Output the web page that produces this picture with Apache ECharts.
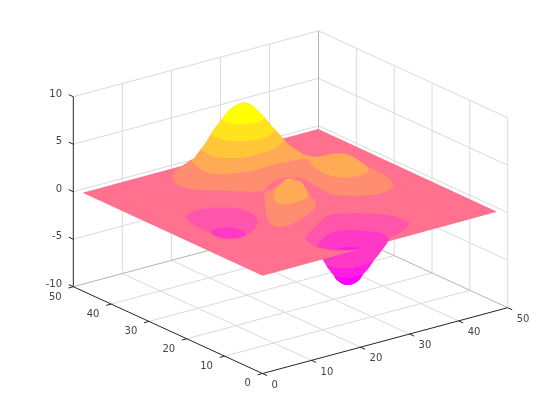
<!DOCTYPE html>
<html>
<head>
<meta charset="utf-8">
<style>html,body{margin:0;padding:0;background:#fff}#c{width:560px;height:420px}</style>
<script src="https://cdn.jsdelivr.net/npm/echarts@6/dist/echarts.min.js"></script>
</head>
<body>
<div id="c"></div>
<script>
// Axis ticks
const xTicks = [0, 10, 20, 30, 40, 50];
const yTicks = [0, 10, 20, 30, 40, 50];
const zTicks = [-10, -5, 0, 5, 10];

// Contour levels and band colours (spring colormap)
const levels = { m5: -5.09, m4: -3.62, m2: -2.16, m1: -0.69, p1: 0.77, p2: 2.24, p4: 3.7, p5: 5.17, p7: 6.63 };
const colors = { m5: '#ff00ff', m4: '#ff1ce3', m2: '#ff39c6', m1: '#ff55aa', p0: '#ff718e', p1: '#ff8e71', p2: '#ffaa55', p4: '#ffc639', p5: '#ffe31c', p7: '#ffff00' };

// Surface outlines, [x, y, z]
const planeCorners = [[0.9, 48.7, 0], [49.1, 48.9, 0], [48.9, 1.4, 0], [0.8, 1.0, 0]];
const hillRidge = [[17.7,41.7,2.24],[18.5,41.0,3.2],[19.9,40.9,4.0],[20.1,39.5,5.3],[21.1,39.5,5.9],[21.5,38.7,6.63],[22.1,38.4,7.2],[23.0,38.4,7.6],[24.3,38.3,7.9],[25.2,37.8,8.1],[25.9,37.3,8.0],[26.3,36.5,7.8],[27.1,36.0,7.2],[27.6,35.1,6.63],[29.1,35.1,5.5],[30.8,35.3,4.4],[31.7,35.2,3.7],[32.7,34.7,3.0],[34.1,33.0,2.24]];
const troughRidge = [[31.9,8.3,-2.16],[29.5,7.6,-3.0],[28.8,8.0,-3.62],[27.9,8.2,-4.3],[27.8,9.4,-5.09],[27.0,9.6,-5.7],[26.4,10.6,-6.2],[26.1,11.5,-6.4],[25.3,11.4,-6.2],[24.1,11.6,-5.6],[23.5,11.5,-5.09],[22.5,11.8,-4.2],[21.5,11.0,-3.62],[20.9,11.3,-2.9]];

// Contours, [x, y] at one level; each list is one unbroken stretch of outline
const troughTop = [[27.8,12.9]];
const troughM4 = [[21.5,11.0],[22.3,9.0],[24.6,7.5],[28.8,8.0]];
const troughM5 = [[23.5,11.5],[24.3,9.6],[26.2,9.1],[27.8,9.4]];
const leftDipM1 = [[8.9,31.7],[10.6,33.3],[13.2,33.6],[15.8,32.6],[18.2,30.4],[18.7,27.1],[17.1,23.5],[14.3,20.9],[12.0,19.7],[10.2,19.6],[8.3,20.6],[7.6,22.5],[8.0,24.1],[7.9,27.6]];
const leftDipM2Top = [[11.9,29.1],[13.4,30.0],[15.7,29.4],[16.6,27.5],[15.9,24.8]];
const leftDipM2Low = [[15.9,24.8],[14.1,24.6],[12.2,25.7],[11.6,27.5],[11.9,29.1]];
const rightDipM1 = [[28.3,3.5],[24.1,3.3],[20.9,4.4],[18.7,6.0],[17.7,8.7],[17.9,11.1],[18.6,12.8],[20.4,14.3],[24.5,17.0],[27.9,18.8],[30.7,18.0],[33.3,16.1],[35.8,13.2],[36.6,9.7],[35.6,7.6],[32.9,5.8],[29.4,4.7]];
const rightDipM2Top = [[21.6,13.7],[24.2,15.7],[27.1,17.3],[30.0,17.0],[32.3,14.7],[33.8,12.3],[33.3,9.7]];
const rightDipM2Low = [[31.9,8.3],[27.8,8.5],[24.8,9.4],[22.7,11.1],[21.6,13.7]];
const rightDipM4 = [[27.7,16.2],[29.5,15.6],[31.1,13.7],[28.7,14.5]];
const bigBandWest = [[21.7,47.3],[17.3,45.1],[14.6,42.5],[13.3,39.5],[14.1,36.5],[17.1,33.4],[21.1,29.8],[22.8,29.2]];
const bigBandEast = [[22.8,29.2],[24.6,30.4],[26.9,31.6],[29.0,31.7],[30.6,31.1],[31.2,29.7],[30.7,25.4],[30.5,21.2],[32.8,18.6],[36.3,16.8],[39.9,17.5],[42.0,20.7],[42.8,24.9],[42.9,27.7],[43.8,33.7],[42.6,35.5],[39.4,35.9],[37.8,37.7],[33.7,44.3],[27.9,48.7]];
const knollP1 = [[22.5,28.7],[18.0,22.6],[15.1,18.0],[14.3,15.2],[15.8,14.1],[19.2,15.0],[23.7,17.3],[25.9,19.5],[27.5,23.1],[30.1,28.7],[30.2,30.6],[29.3,31.2],[27.3,30.4],[25.8,29.6],[24.1,28.8],[23.2,28.6]];
const knollP2 = [[19.4,22.1],[17.7,19.6],[17.3,17.4],[18.9,16.7],[21.8,17.0],[23.7,18.9],[25.8,23.0],[25.6,24.6],[25.1,25.4],[23.7,25.2],[21.1,23.7]];
const knollP4 = [[20.4,20.6],[21.2,20.8],[21.6,20.1],[20.9,20.1]];
const lobeP2 = [[34.1,33.0],[35.3,31.1],[38.8,30.6],[39.7,27.8],[39.0,23.5],[37.6,20.8],[34.5,20.2],[31.9,22.2],[31.6,26.3],[33.1,30.6]];
const hillFootP2 = [[33.1,31.7],[28.4,32.6],[23.5,32.4],[18.5,33.9],[16.6,36.7],[17.7,41.7]];
const hillP4 = [[31.7,35.2],[28.5,33.6],[25.9,32.8],[21.3,33.2],[18.2,36.1],[18.4,39.9]];
const hillP5 = [[29.6,34.8],[26.0,33.1],[22.5,33.8],[20.2,36.1],[19.9,39.3]];
const hillP7 = [[27.6,35.1],[25.6,34.4],[24.2,34.7],[22.2,35.8],[21.6,37.2],[21.5,38.7]];

// View: where the box origin and unit vectors land on the page
const origin = [262.5, 373.5], unitX = [4.904, -1.316], unitY = [-3.784, -1.736], unitZ = -9.5;
const project = (p) => [
  origin[0] + p[0] * unitX[0] + p[1] * unitY[0],
  origin[1] + p[0] * unitX[1] + p[1] * unitY[1] + (p[2] + 10) * unitZ
];
const at = (level, pts) => pts.map((p) => [p[0], p[1], level]);

// Catmull-Rom through the read vertices (drawing only)
function spline(p0, p1, p2, p3, steps, out) {
  for (let k = 0; k < steps; k++) {
    const t = k / steps, t2 = t * t, t3 = t2 * t;
    out.push([0, 1].map((d) => 0.5 * (2 * p1[d] + (p2[d] - p0[d]) * t + (2 * p0[d] - 5 * p1[d] + 4 * p2[d] - p3[d]) * t2 + (3 * p1[d] - p0[d] - 3 * p2[d] + p3[d]) * t3)));
  }
}
function closedOutline(pts) {
  const n = pts.length, out = [];
  for (let i = 0; i < n; i++) spline(pts[(i - 1 + n) % n], pts[i], pts[(i + 1) % n], pts[(i + 2) % n], 8, out);
  return out;
}
function openRun(pts) {
  const n = pts.length, out = [];
  if (n === 1) return pts.slice();
  for (let i = 0; i < n - 1; i++) spline(pts[Math.max(i - 1, 0)], pts[i], pts[i + 1], pts[Math.min(i + 2, n - 1)], 8, out);
  out.push(pts[n - 1]);
  return out;
}

const layers = [
  { c: colors.m2, runs: [troughRidge, at(levels.m2, troughTop)] },
  { c: colors.m4, runs: [at(levels.m4, troughM4), troughRidge.slice(2, 13)] },
  { c: colors.m5, runs: [at(levels.m5, troughM5), troughRidge.slice(4, 11)] },
  { c: colors.p0, corners: planeCorners },
  { c: colors.m1, loop: at(levels.m1, leftDipM1) },
  { c: colors.m2, runs: [at(levels.m2, leftDipM2Top), at(levels.m2, leftDipM2Low)] },
  { c: colors.m1, runs: [at(levels.m1, rightDipM1)] },
  { c: colors.m2, runs: [at(levels.m2, rightDipM2Top), at(levels.m2, rightDipM2Low)] },
  { c: colors.m4, loop: at(levels.m4, rightDipM4) },
  { c: colors.p1, runs: [at(levels.p1, bigBandWest), at(levels.p1, bigBandEast)] },
  { c: colors.p1, runs: [at(levels.p1, knollP1)] },
  { c: colors.p2, loop: at(levels.p2, knollP2) },
  { c: colors.p4, loop: at(levels.p4, knollP4) },
  { c: colors.p2, runs: [hillRidge, at(levels.p2, lobeP2), at(levels.p2, hillFootP2)] },
  { c: colors.p4, runs: [hillRidge.slice(2, 17), at(levels.p4, hillP4)] },
  { c: colors.p5, runs: [hillRidge.slice(3, 15), at(levels.p5, hillP5)] },
  { c: colors.p7, runs: [hillRidge.slice(5, 14), at(levels.p7, hillP7)] }
];

// Box: grid lines, edges, ticks, labels
const GRID = '#dadada', EDGE = '#b4b4b4', AXIS = '#262626';
const boxLines = [];
const seg = (a, b, color) => boxLines.push({ a, b, color });
const zMin = zTicks[0], zMax = zTicks[zTicks.length - 1];
const xMax = xTicks[xTicks.length - 1], yMax = yTicks[yTicks.length - 1];
xTicks.slice(1, -1).forEach((x) => {
  seg([x, 0, zMin], [x, yMax, zMin], GRID);
  seg([x, yMax, zMin], [x, yMax, zMax], GRID);
});
yTicks.slice(1, -1).forEach((y) => {
  seg([0, y, zMin], [xMax, y, zMin], GRID);
  seg([xMax, y, zMin], [xMax, y, zMax], GRID);
});
zTicks.slice(1).forEach((z) => {
  seg([0, yMax, z], [xMax, yMax, z], GRID);
  seg([xMax, yMax, z], [xMax, 0, z], GRID);
});
seg([xMax, 0, zMin], [xMax, 0, zMax], GRID);
seg([xMax, yMax, zMin], [xMax, yMax, zMax], EDGE);
seg([0, yMax, zMin], [xMax, yMax, zMin], EDGE);
seg([xMax, 0, zMin], [xMax, yMax, zMin], EDGE);
seg([0, 0, zMin], [xMax, 0, zMin], AXIS);
seg([0, 0, zMin], [0, yMax, zMin], AXIS);
seg([0, yMax, zMin], [0, yMax, zMax], AXIS);
xTicks.forEach((x) => seg([x, 0, zMin], [x, -1.2, zMin], AXIS));
yTicks.forEach((y) => seg([0, y, zMin], [-1, y, zMin], AXIS));
zTicks.forEach((z) => seg([0, yMax, z], [0, yMax + 1.2, z], AXIS));

const boxLabels = [];
xTicks.forEach((x) => boxLabels.push({ t: String(x), p: [x, 0, zMin], dx: 9, dy: 11.7, align: 'left' }));
yTicks.forEach((y) => boxLabels.push({ t: String(y), p: [0, y, zMin], dx: -11.7, dy: 10.3, align: 'right' }));
zTicks.forEach((z) => boxLabels.push({ t: String(z), p: [0, yMax, z], dx: -11.3, dy: -2.4, align: 'right' }));

const chart = echarts.init(document.getElementById('c'), null, { renderer: 'canvas' });
chart.setOption({
  animation: false,
  backgroundColor: '#fff',
  grid: { left: 0, right: 0, top: 0, bottom: 0 },
  xAxis: { type: 'value', min: 0, max: 560, show: false },
  yAxis: { type: 'value', min: 0, max: 420, inverse: true, show: false },
  series: [
    {
      type: 'custom', coordinateSystem: 'cartesian2d', silent: true, clip: false, z: 1,
      data: boxLines.map((_, i) => [i]),
      renderItem: (params, api) => {
        const l = boxLines[api.value(0)];
        const a = api.coord(project(l.a)), b = api.coord(project(l.b));
        return { type: 'line', shape: { x1: a[0], y1: a[1], x2: b[0], y2: b[1] }, style: { stroke: l.color, lineWidth: 1 } };
      }
    },
    {
      type: 'custom', coordinateSystem: 'cartesian2d', silent: true, clip: false, z: 2,
      data: layers.map((_, i) => [i]),
      renderItem: (params, api) => {
        const l = layers[api.value(0)];
        const px = (list) => list.map((p) => api.coord(project(p)));
        let points;
        if (l.corners) points = px(l.corners);
        else if (l.loop) points = closedOutline(px(l.loop));
        else points = [].concat(...l.runs.map((r) => openRun(px(r))));
        return { type: 'polygon', shape: { points }, style: { fill: l.c, stroke: null } };
      }
    },
    {
      type: 'custom', coordinateSystem: 'cartesian2d', silent: true, clip: false, z: 3,
      data: boxLabels.map((_, i) => [i]),
      renderItem: (params, api) => {
        const l = boxLabels[api.value(0)];
        const a = api.coord(project(l.p));
        return {
          type: 'text',
          style: { text: l.t, x: a[0] + l.dx, y: a[1] + l.dy, align: l.align, verticalAlign: 'middle', fill: '#444444', font: '10px "DejaVu Sans"' }
        };
      }
    }
  ]
});
</script>
</body>
</html>
